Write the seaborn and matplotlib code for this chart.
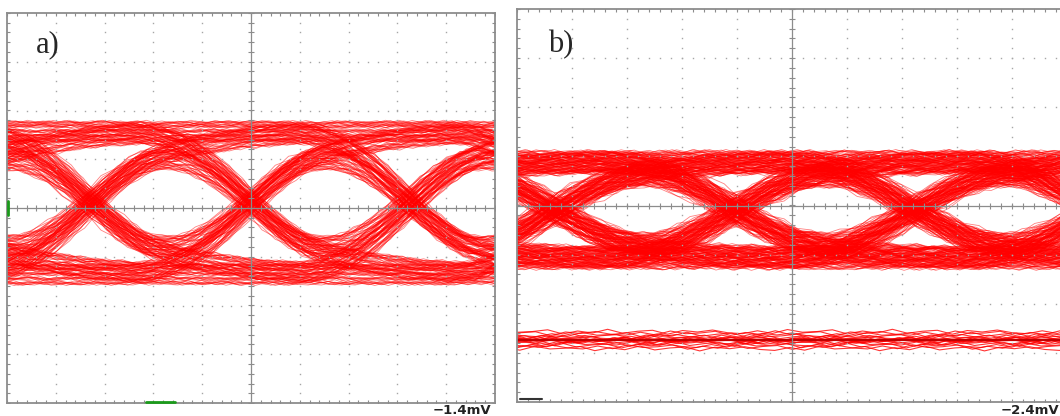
import numpy as np
import pandas as pd
import matplotlib
matplotlib.use("Agg")
import matplotlib.pyplot as plt
import seaborn as sns

sns.set_style("white")

period = 3.27                      # one bit, in horizontal divisions (same timebase a and b)
# step response of the link, sampled every period/12, read from the edge shapes
step_a = [0.0, 0.01, 0.03, 0.06, 0.10, 0.16, 0.23, 0.31, 0.40, 0.49, 0.58, 0.66, 0.73,
          0.79, 0.83, 0.86, 0.885, 0.905, 0.92, 0.935, 0.948, 0.96, 0.968, 0.975,
          0.982, 0.987, 0.991, 0.994, 0.997, 0.999, 1.0]
step_b = [0.0, 0.01, 0.03, 0.06, 0.11, 0.18, 0.26, 0.35, 0.45, 0.55, 0.64, 0.72, 0.79,
          0.84, 0.88, 0.91, 0.93, 0.945, 0.957, 0.966, 0.974, 0.98, 0.985, 0.989,
          0.992, 0.994, 0.996, 0.997, 0.998, 0.999, 1.0]
levels_a = [-1.37, 1.56]           # low / high rail
levels_b = [-1.07, 0.89]
dark_level_b = -2.74               # flat band at the bottom of b)
first_edge_a = -3.96               # start of the first edge that still shows on screen
first_edge_b = -4.85
offsets_a = [-0.17, -0.08, 0.02, 0.12, 0.19]
offsets_b = [-0.19, -0.13, -0.06, 0.0, 0.06, 0.13, 0.19]
offsets_dark = [-0.17, -0.14, -0.11, -0.08, -0.06, -0.04, -0.02, -0.01, 0.0, 0.01,
                0.02, 0.04, 0.06, 0.08, 0.11, 0.14, 0.17]
jitter_a = [0.05, -0.08, 0.0, 0.1, -0.04, 0.07, -0.11, 0.02]
jitter_b = [0.08, -0.14, 0.02, 0.17, -0.07, 0.12, -0.18, 0.04, -0.1]
ripple = [0.4, -0.7, 0.9, -0.2, 0.1, 0.8, -0.9, 0.3, -0.5, 1.0, -0.6, 0.2, 0.6,
          -1.0, 0.5, -0.1, 0.7, -0.4, -0.8]
labels = ["a)", "b)"]
scale_labels = ["\u22121.4mV", "\u22122.4mV"]


def eye_traces(step, levels, first_edge, offsets, jitter, noise):
    step = np.array(step)
    rip = np.array(ripple) * noise
    dt = period / 12
    n = int((10.6 - first_edge) / dt) + 1
    idx = np.arange(n)
    rows = []
    unit = 0
    for p in range(64):
        bits = [(p >> (5 - j)) & 1 for j in range(6)]
        lev = np.full(n, float(bits[0]))
        for k in range(1, 6):
            d = bits[k] - bits[k - 1]
            if d:
                i = idx - 12 * (k - 1)
                lev += d * np.where(i < 0, 0.0, step[np.clip(i, 0, len(step) - 1)])
        for r, off in enumerate(offsets):
            t = first_edge + idx * dt + jitter[(p + r) % len(jitter)]
            v = levels[0] + (levels[1] - levels[0]) * lev + off
            v = v + np.resize(np.roll(rip, p * 3 + r * 5), n)
            keep = (t > -0.6) & (t < 10.6)
            rows.append(pd.DataFrame({"t": t[keep], "v": v[keep], "trace": unit}))
            unit += 1
    return pd.concat(rows, ignore_index=True)


def flat_traces(level, offsets, noise):
    rip = np.array(ripple) * noise
    dt = period / 12
    t = np.arange(-0.3, 10.6, dt)
    rows = []
    for r, off in enumerate(offsets):
        v = level + off + np.resize(np.roll(rip, r * 7), len(t))
        rows.append(pd.DataFrame({"t": t + jitter_b[r % len(jitter_b)], "v": v, "trace": r}))
    return pd.concat(rows, ignore_index=True)


def graticule(ax):
    dot = "#a6a6a6"
    line = "#8c8c8c"
    fine = np.arange(0, 10.01, 0.2)
    fine_y = np.arange(-4, 4.01, 0.2)
    for x in range(1, 10):
        if x != 5:
            ax.plot(np.full(len(fine_y), x), fine_y, ls="none", marker="s", ms=1.0,
                    mew=0, color=dot, zorder=3)
    for y in range(-3, 4):
        if y != 0:
            ax.plot(fine, np.full(len(fine), y), ls="none", marker="s", ms=1.0,
                    mew=0, color=dot, zorder=3)
    ax.axhline(0, color=line, lw=0.9, zorder=4)
    ax.axvline(5, color=line, lw=0.9, zorder=4)
    ax.plot(fine, np.zeros(len(fine)), ls="none", marker="|", ms=4, mew=0.8,
            color=line, zorder=4)
    ax.plot(np.full(len(fine_y), 5), fine_y, ls="none", marker="_", ms=4, mew=0.8,
            color=line, zorder=4)
    for yy in (-4, 4):
        ax.plot(fine, np.full(len(fine), yy), ls="none", marker="|", ms=5, mew=0.8,
                color=line, zorder=4)
    for xx in (0, 10):
        ax.plot(np.full(len(fine_y), xx), fine_y, ls="none", marker="_", ms=5, mew=0.8,
                color=line, zorder=4)
    ax.set_xlim(0, 10)
    ax.set_ylim(-4, 4)
    ax.set_xticks([])
    ax.set_yticks([])
    ax.set_xlabel("")
    ax.set_ylabel("")
    for s in ax.spines.values():
        s.set_color(line)
        s.set_linewidth(1.3)


W, H = 1060, 416
fig = plt.figure(figsize=(W / 100, H / 100), dpi=100)
ax_a = fig.add_axes([7 / W, 1 - 403 / H, 488 / W, 390 / H])
ax_b = fig.add_axes([517 / W, 1 - 402 / H, 550 / W, 393 / H])

df_a = eye_traces(step_a, levels_a, first_edge_a, offsets_a, jitter_a, 0.05)
df_b = eye_traces(step_b, levels_b, first_edge_b, offsets_b, jitter_b, 0.06)
df_dark = flat_traces(dark_level_b, offsets_dark, 0.05)

sns.lineplot(data=df_a, x="t", y="v", units="trace", estimator=None, color="red",
             lw=0.6, alpha=0.5, ax=ax_a, legend=False, sort=False)
sns.lineplot(data=df_b, x="t", y="v", units="trace", estimator=None, color="red",
             lw=0.6, alpha=0.5, ax=ax_b, legend=False, sort=False)
sns.lineplot(data=df_dark, x="t", y="v", units="trace", estimator=None, color="red",
             lw=0.8, alpha=0.8, ax=ax_b, legend=False, sort=False)
ax_b.plot([0, 10], [dark_level_b, dark_level_b], color="#c00000", lw=1.6, zorder=2)

for ax in (ax_a, ax_b):
    graticule(ax)

# little trigger / marker bits of the scope screen
ax_a.plot([0.02, 0.02], [-0.15, 0.15], color="#1a9a1a", lw=2, zorder=5, clip_on=False)
ax_a.plot([2.85, 3.45], [-3.98, -3.98], color="#1a9a1a", lw=2, zorder=5, clip_on=False)
ax_b.plot([0.05, 0.45], [-3.93, -3.93], color="#333333", lw=1.5, zorder=5)

fig.text(36 / W, 1 - 52 / H, labels[0], fontsize=22, family="Liberation Serif", va="baseline")
fig.text(548 / W, 1 - 52 / H, labels[1], fontsize=22, family="Liberation Serif", va="baseline")
fig.text(491 / W, 1 - 413.5 / H, scale_labels[0], fontsize=9.5, weight="bold",
         color="#222222", ha="right", va="baseline")
fig.text(1059 / W, 1 - 413.5 / H, scale_labels[1], fontsize=9.5, weight="bold",
         color="#222222", ha="right", va="baseline")

fig.savefig("out.png", dpi=100)
